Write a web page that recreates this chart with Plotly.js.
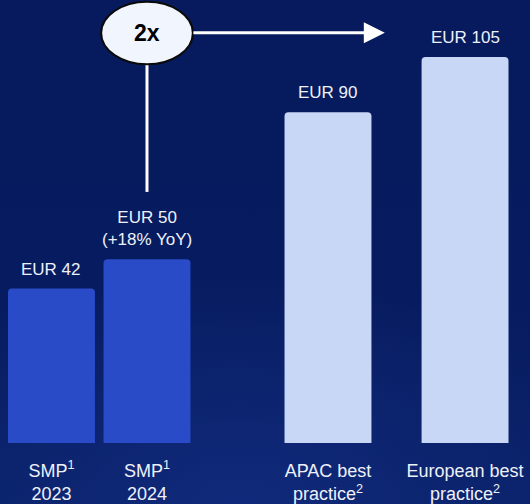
<!DOCTYPE html>
<html>
<head>
<meta charset="utf-8">
<script src="https://cdn.plot.ly/plotly-3.0.1.min.js"></script>
<style>
  html, body { margin: 0; padding: 0; }
  body {
    width: 530px; height: 504px; overflow: hidden;
    background: radial-gradient(ellipse 70% 45% at 45% 100%, #10297a 0%, rgba(16,41,122,0) 100%),
                linear-gradient(180deg, #061a5d 0%, #071c60 60%, #0a2268 100%);
  }
  #chart { width: 530px; height: 504px; }
</style>
</head>
<body>
<div id="chart"></div>
<script>
// ---- data ----
const categories = [
  'SMP<sup>1</sup><br>2023',
  'SMP<sup>1</sup><br>2024',
  'APAC best<br>practice<sup>2</sup>',
  'European best<br>practice<sup>2</sup>'
];
const values = [42, 50, 90, 105];
const valueLabels = ['EUR 42', 'EUR 50<br>(+18% YoY)', 'EUR 90', 'EUR 105'];
const multipleLabel = '2x';

// ---- layout / style ----
const slots = [0, 1, 2.895, 4.33];
const barColors = ['#2a4bc8', '#2a4bc8', '#c8d7f6', '#c8d7f6'];
const textColor = '#eef1fa';
const font = 'Liberation Sans, Arial, sans-serif';

const trace = {
  type: 'bar',
  x: slots,
  y: values,
  width: 0.91,
  marker: { color: barColors, cornerradius: 4, line: { width: 0 } },
  hoverinfo: 'skip'
};

const annotations = values.map((v, i) => ({
  x: slots[i], y: v, xref: 'x', yref: 'y',
  text: valueLabels[i], showarrow: false,
  yanchor: 'bottom', yshift: 8,
  font: { family: font, size: 17, color: textColor }
}));

// 2x bubble text
const bubbleY = 111.6;
annotations.push({
  x: slots[1], y: bubbleY, xref: 'x', yref: 'y',
  text: '<b>' + multipleLabel + '</b>', showarrow: false,
  font: { family: font, size: 23, color: '#000000' }
});
// horizontal arrow from bubble to the top bar
annotations.push({
  x: 3.49, y: bubbleY, xref: 'x', yref: 'y',
  ax: 1.47, ay: bubbleY, axref: 'x', ayref: 'y',
  text: '', showarrow: true, arrowhead: 2, arrowsize: 1.4, arrowwidth: 3,
  arrowcolor: '#ffffff', standoff: 0, startstandoff: 0
});

const shapes = [
  // vertical connector from bar 2 label to bubble
  { type: 'line', xref: 'x', yref: 'y',
    x0: slots[1], x1: slots[1], y0: values[1] + 18.3, y1: bubbleY,
    line: { color: '#ffffff', width: 3 }, layer: 'below' },
  // bubble
  { type: 'circle', xref: 'x', yref: 'y',
    x0: slots[1] - 0.48, x1: slots[1] + 0.48, y0: bubbleY - 8.6, y1: bubbleY + 8.4,
    fillcolor: '#f1f5fd', line: { color: '#0a0a0a', width: 2 } }
];

const layout = {
  width: 530, height: 504,
  margin: { l: 0, r: 0, t: 0, b: 61 },
  paper_bgcolor: 'rgba(0,0,0,0)',
  plot_bgcolor: 'rgba(0,0,0,0)',
  showlegend: false,
  xaxis: {
    range: [-0.539, 5.01],
    tickvals: slots, ticktext: categories,
    showgrid: false, zeroline: false, showline: false, ticks: '',
    ticklabelstandoff: 15,
    tickfont: { family: font, size: 18, color: textColor },
    fixedrange: true
  },
  yaxis: {
    range: [0, 120.5],
    visible: false, showgrid: false, zeroline: false, fixedrange: true
  },
  annotations: annotations,
  shapes: shapes,
  font: { family: font }
};

Plotly.newPlot('chart', [trace], layout, { staticPlot: true, displayModeBar: false });
</script>
</body>
</html>
